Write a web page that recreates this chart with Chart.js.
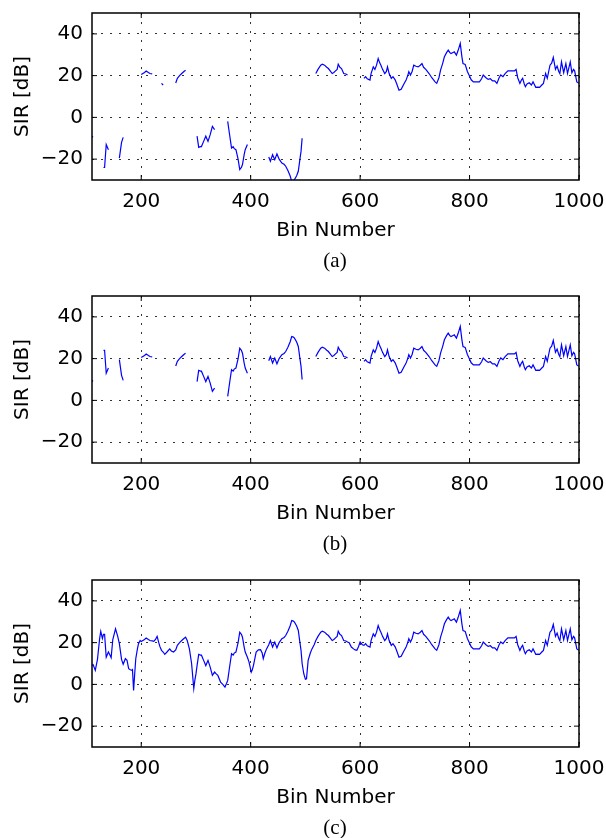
<!DOCTYPE html>
<html>
<head>
<meta charset="utf-8">
<script src="https://cdn.jsdelivr.net/npm/chart.js@4.4.1/dist/chart.umd.min.js"></script>
<style>
  body { margin: 0; background: #fff; }
  #wrap { position: relative; width: 606px; height: 838px; overflow: hidden; }
  canvas { position: absolute; left: 0; }
  .cap { position: absolute; left: 285px; width: 100px; line-height: 24px; text-align: center;
         font-family: "Liberation Serif", "Times New Roman", serif; font-size: 21px; color: #000; }
</style>
</head>
<body>
<div id="wrap">
  <canvas id="chartA" width="606" height="250" style="top:0px"></canvas>
  <canvas id="chartB" width="606" height="250" style="top:283px"></canvas>
  <canvas id="chartC" width="606" height="250" style="top:567px"></canvas>
  <div class="cap" style="top:248px">(a)</div>
  <div class="cap" style="top:531px">(b)</div>
  <div class="cap" style="top:815px">(c)</div>
</div>
<script>
// tick labels
const xTicks = [200, 400, 600, 800, 1000];
const yTicks = [-20, 0, 20, 40];

// bin numbers and SIR of the full curve (panel c)
const bins = [
  109, 112, 116, 120, 124, 126, 129, 131, 133, 136, 140, 143, 145, 148, 153, 157, 160, 164, 167, 171,
  174, 177, 180, 183, 184, 186, 188, 190, 193, 195, 198, 200, 203, 206, 209, 213, 216, 220, 223, 226,
  229, 232, 234, 237, 240, 243, 247, 252, 255, 259, 263, 266, 270, 274, 278, 281, 284, 288, 292, 296,
  298, 300, 302, 305, 308, 310, 314, 318, 322, 326, 330, 334, 337, 340, 345, 349, 353, 356, 358, 361,
  365, 368, 370, 373, 377, 380, 383, 385, 388, 390, 394, 397, 401, 403, 405, 410, 414, 418, 421, 423,
  426, 429, 433, 436, 440, 444, 448, 452, 457, 461, 464, 468, 472, 475, 478, 480, 484, 487, 490, 492,
  494, 497, 500, 502, 505, 509, 512, 516, 519, 523, 528, 531, 535, 539, 542, 546, 549, 552, 555, 558,
  560, 563, 566, 570, 574, 577, 580, 584, 588, 591, 594, 597, 600, 604, 607, 610, 613, 618, 620, 624,
  627, 630, 633, 636, 638, 641, 645, 648, 650, 653, 657, 660, 664, 667, 671, 675, 680, 684, 687, 689,
  692, 695, 698, 702, 706, 710, 713, 716, 720, 726, 731, 737, 740, 744, 747, 751, 754, 758, 761, 764,
  766, 769, 772, 776, 779, 783, 786, 788, 792, 796, 799, 803, 807, 812, 818, 822, 825, 830, 834, 838,
  842, 846, 850, 854, 857, 861, 865, 870, 876, 882, 885, 888, 892, 895, 897, 900, 902, 905, 909, 913,
  916, 918, 921, 925, 928, 932, 935, 939, 942, 947, 950, 953, 957, 960, 963, 965, 968, 972, 976, 979,
  984, 987, 990, 992, 996, 1000
];
const sirFull = [
  9, 9.5, 6.7, 12, 22, 25.4, 22, 24, 24, 13, 15.5, 14, 12.8, 21.5, 26.6, 23, 19.5, 12, 9.6, 12.3,
  11.5, 7.5, 7, 6.7, 7, -2.9, 5, 12.3, 17, 19.5, 21, 20.5, 21, 21.5, 22.2, 21.5, 21, 20.8, 20.6, 21.5,
  23, 20, 18.2, 16.3, 15.5, 14.4, 15.5, 17, 16, 15.5, 16.5, 18.7, 20, 21, 22, 22.6, 21, 17, 10, -2,
  2, 5, 9, 14.4, 14, 14, 11.5, 9, 11.5, 8.3, 4.3, 5.9, 5, 4.3, 1.1, 0, -1.3, 0.5, 1.9, 7.5,
  14.7, 14, 15, 15.5, 20, 25, 24, 22.6, 18, 15.5, 13, 10.7, 5.9, 7, 9, 15.5, 16.5, 16.6, 15, 12.3,
  15, 17, 19, 21, 17.9, 20.3, 17.5, 20, 21.9, 22.5, 23.4, 25.5, 28, 30.6, 30.3, 29.8, 28, 25.8, 20, 16.3,
  10, 5.1, 2.5, 2.7, 11.5, 15, 17, 19, 21, 23, 25, 25.5, 25, 24, 23.4, 22, 21, 21.5, 22.3, 23,
  25.5, 24, 23.4, 21, 20.8, 20.3, 20, 17.9, 17, 16.5, 16.3, 18, 20.3, 19, 18.7, 19.5, 18.5, 17.9, 21, 24.2,
  23, 25, 28.2, 26, 25, 23, 21, 22, 24.2, 21, 18.7, 19.5, 18, 16, 13, 13.5, 16, 17.9, 20, 21.9,
  20.3, 22, 25, 24.5, 24.2, 25, 25.8, 24, 23, 21, 19, 17, 16.3, 19, 22.6, 26, 29, 31, 32.2, 31,
  30.6, 31, 31.4, 29.8, 32, 35.4, 29, 25.8, 25.4, 22, 20.3, 18, 17, 17, 17, 18.5, 20.3, 19, 18.2, 18.5,
  17.5, 17.5, 16.3, 19, 20.3, 19.5, 21, 22.3, 22.3, 22.3, 23, 19, 16.3, 18, 18.7, 16, 14.7, 16, 16.6, 15.5,
  17, 16, 14.4, 14.5, 14.4, 15.5, 16.3, 21, 18.7, 25, 26, 28.7, 23, 24.6, 22, 21, 26.6, 21.4, 25.8, 21,
  26.6, 21.4, 23, 22.3, 17, 16.3
];

// bin ranges that are drawn in panels (a) and (b); in (a) some ranges show with opposite sign
const shownB = [[109, 112], [131, 140], [160, 167], [200, 220], [263, 281], [302, 334],
                [358, 394], [433, 494], [519, 577], [607, 1000]];
const shownA = shownB.concat([[237, 240]]);
const flippedA = [[109, 112], [131, 140], [160, 167], [302, 334], [358, 394], [433, 494]];

function inRanges(b, ranges) {
  return ranges.some(([s, e]) => b >= s && b <= e);
}

function panelData(shown, flipped) {
  return bins.map((b, i) => {
    if (!inRanges(b, shown)) return { x: b, y: null };
    return { x: b, y: inRanges(b, flipped) ? -sirFull[i] : sirFull[i] };
  });
}

// box round the plot with short inner tick marks, matlab style
const framePlugin = {
  id: 'frame',
  afterDraw(chart) {
    const { ctx, chartArea: a, scales: { x, y } } = chart;
    ctx.save();
    ctx.strokeStyle = '#000';
    ctx.lineWidth = 1.5;
    ctx.strokeRect(a.left, a.top, a.right - a.left, a.bottom - a.top);
    ctx.lineWidth = 1;
    ctx.beginPath();
    xTicks.forEach(v => {
      const px = x.getPixelForValue(v);
      ctx.moveTo(px, a.bottom); ctx.lineTo(px, a.bottom - 5);
      ctx.moveTo(px, a.top); ctx.lineTo(px, a.top + 5);
    });
    yTicks.forEach(v => {
      const py = y.getPixelForValue(v);
      ctx.moveTo(a.left, py); ctx.lineTo(a.left + 5, py);
      ctx.moveTo(a.right, py); ctx.lineTo(a.right - 5, py);
    });
    ctx.stroke();
    ctx.restore();
  }
};

const font = { family: '"DejaVu Sans", sans-serif', size: 20 };

// drop the automatic label padding so the plot box lands where it should
function noPad(s) {
  s.paddingLeft = 0; s.paddingRight = 0; s.paddingTop = 0; s.paddingBottom = 0;
}

function makeChart(id, data) {
  return new Chart(document.getElementById(id), {
    type: 'line',
    data: {
      datasets: [{
        data: data,
        borderColor: '#0000ff',
        borderWidth: 1.2,
        pointRadius: 0,
        tension: 0,
        spanGaps: false
      }]
    },
    options: {
      responsive: false,
      animation: false,
      events: [],
      layout: { padding: { top: 13, right: 27, left: 0, bottom: 0 } },
      plugins: { legend: { display: false }, tooltip: { enabled: false } },
      scales: {
        x: {
          type: 'linear',
          min: 110,
          max: 1000,
          afterBuildTicks: s => { s.ticks = xTicks.map(v => ({ value: v })); },
          afterFit: s => { s.height = 70; noPad(s); },
          grid: { color: '#333', drawTicks: false },
          border: { display: false, dash: [2, 7] },
          ticks: { color: '#000', font: font, padding: 10, maxRotation: 0,
                   callback: v => String(v) },
          title: { display: true, text: 'Bin Number', color: '#000', font: font, padding: { top: 0, bottom: 7 } }
        },
        y: {
          min: -30,
          max: 50,
          afterBuildTicks: s => { s.ticks = yTicks.map(v => ({ value: v })); },
          afterFit: s => { s.width = 92; noPad(s); },
          grid: { color: '#333', drawTicks: false },
          border: { display: false, dash: [2, 7] },
          ticks: { color: '#000', font: font, padding: 9,
                   callback: v => String(v).replace('-', '\u2212') },
          title: { display: true, text: 'SIR [dB]', color: '#000', font: font, padding: { top: 11, bottom: 0 } }
        }
      }
    },
    plugins: [framePlugin]
  });
}

makeChart('chartA', panelData(shownA, flippedA));
makeChart('chartB', panelData(shownB, []));
makeChart('chartC', bins.map((b, i) => ({ x: b, y: sirFull[i] })));
</script>
</body>
</html>
